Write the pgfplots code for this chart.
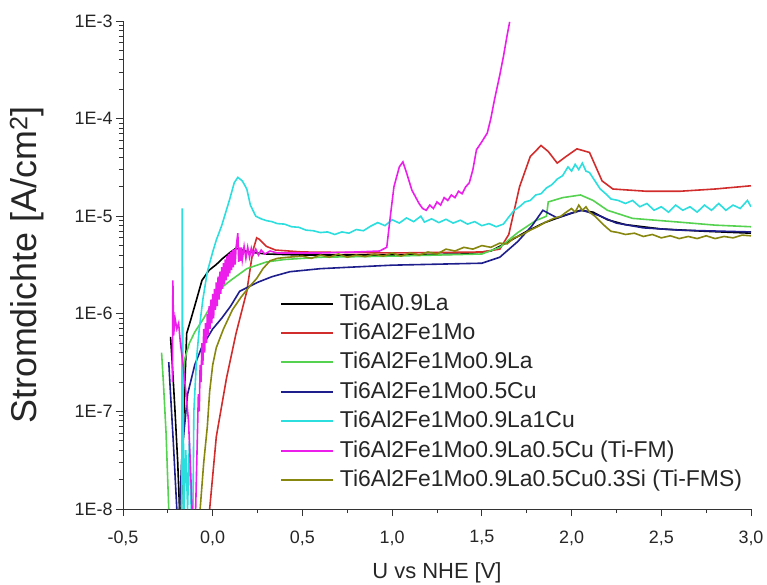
\documentclass[border=0pt]{standalone}
\usepackage{fontspec}
\setmainfont{Liberation Sans}
\usepackage{pgfplots}
\pgfplotsset{compat=1.18}
\definecolor{cRed}{RGB}{210,45,45}
\definecolor{cGreen}{RGB}{85,210,80}
\definecolor{cNavy}{RGB}{30,30,140}
\definecolor{cCyan}{RGB}{45,222,222}
\definecolor{cMag}{RGB}{235,30,235}
\definecolor{cOlive}{RGB}{135,135,15}
\begin{document}
\begin{tikzpicture}
\begin{axis}[
  width=628bp, height=488bp, scale only axis,
  xmin=-0.5, xmax=3.0, ymin=1e-8, ymax=1e-3, ymode=log,
  unbounded coords=jump,
  axis lines*=left,
  axis line style={line width=0.9bp, black!80},
  xtick={-0.5,0,0.5,1,1.5,2,2.5,3},
  xticklabels={{-0,5},{0,0},{0,5},{1,0},{1,5},{2,0},{2,5},{3,0}},
  minor x tick num=1,
  ytick={1e-8,1e-7,1e-6,1e-5,1e-4,1e-3},
  yticklabels={1E-8,1E-7,1E-6,1E-5,1E-4,1E-3},
  tick align=outside,
  major tick length=7bp, minor tick length=4bp,
  every tick/.style={line width=0.9bp, black!80},
  tick label style={font=\fontsize{18}{20}\selectfont, text=black!85},
  xticklabel style={yshift=-11bp},
  /pgf/number format/assume math mode=true,
  xlabel={U vs NHE [V]},
  ylabel={Stromdichte [A/cm\textsuperscript{2}]},
  xlabel style={at={(axis description cs:0.5,-0.131)}, anchor=center, font=\fontsize{22}{24}\selectfont, text=black!85},
  ylabel style={at={(axis description cs:-0.153,0.5)}, anchor=center, font=\fontsize{36}{38}\selectfont, text=black!85},
  legend style={at={(0.25,0.443)}, anchor=north west, draw=none, fill=none,
    font=\fontsize{23}{23}\selectfont, row sep=7.4bp, column sep=0pt, inner sep=0pt,
    nodes={inner sep=0pt, text height=17bp, text depth=5bp, text=black!85}},
  legend cell align=left,
  legend image code/.code={\draw[#1, line width=2bp] (0bp,0.5bp) -- (52bp,0.5bp); \path (58bp,0.5bp);},
  every axis plot/.append style={line width=1.6bp},
]
\coordinate (O) at (rel axis cs:0,0);

% ---- Ti6Al0.9La
\addplot[color=black] coordinates {(-0.235,5.8e-7) (-0.225,3e-7) (-0.21,1e-7) (-0.195,3e-8) (-0.185,1e-8) (-0.18,nan)
(-0.175,1e-8) (-0.165,5e-8) (-0.155,2e-7) (-0.145,6.3e-7) (-0.12,9e-7) (-0.09,1.4e-6) (-0.06,2.2e-6) (-0.02,2.8e-6) (0.02,3.2e-6) (0.056,3.7e-6) (0.1,4.3e-6) (0.13,4.7e-6) (0.2,4.3e-6) (0.3,4.1e-6) (0.5,4.0e-6) (1.0,4.0e-6) (1.4,4.1e-6) (1.55,4.4e-6) (1.65,5.5e-6) (1.75,7e-6) (1.85,8.6e-6) (1.95,1.0e-5) (2.05,1.15e-5) (2.12,1.1e-5) (2.2,9.2e-6) (2.3,8.2e-6) (2.5,7.4e-6) (2.75,7e-6) (3.0,6.7e-6)};
\addlegendentry{Ti6Al0.9La}

% ---- Ti6Al2Fe1Mo
\addplot[color=cRed] coordinates {(-0.017,1e-8) (0.02,5.5e-8) (0.077,2.2e-7) (0.13,6.3e-7) (0.19,1.7e-6) (0.21,3e-6) (0.225,4.5e-6) (0.245,6e-6) (0.26,5.8e-6) (0.3,4.9e-6) (0.35,4.5e-6) (0.5,4.3e-6) (1.0,4.2e-6) (1.5,4.3e-6) (1.6,4.6e-6) (1.65,6.5e-6) (1.71,2e-5) (1.77,4.1e-5) (1.83,5.3e-5) (1.87,4.6e-5) (1.92,3.5e-5) (1.97,4.1e-5) (2.03,4.9e-5) (2.1,4.5e-5) (2.17,2.3e-5) (2.23,1.9e-5) (2.42,1.8e-5) (2.6,1.8e-5) (2.8,1.9e-5) (3.0,2.05e-5)};
\addlegendentry{Ti6Al2Fe1Mo}

% ---- Ti6Al2Fe1Mo0.9La
\addplot[color=cGreen] coordinates {(-0.285,4e-7) (-0.275,2e-7) (-0.26,6e-8) (-0.245,1e-8) (-0.2,nan)
(-0.175,1e-8) (-0.17,8e-8) (-0.165,2.2e-7) (-0.155,3.5e-7) (-0.13,5e-7) (-0.1,6.5e-7) (-0.05,9e-7) (0.0,1.3e-6) (0.056,1.9e-6) (0.1,2.2e-6) (0.19,2.9e-6) (0.3,3.4e-6) (0.4,3.6e-6) (0.6,3.8e-6) (1.0,3.9e-6) (1.5,4.1e-6) (1.6,4.8e-6) (1.7,6.8e-6) (1.8,9e-6) (1.86,1.0e-5) (1.87,1.4e-5) (1.95,1.55e-5) (2.05,1.65e-5) (2.12,1.45e-5) (2.2,1.15e-5) (2.34,9.5e-6) (2.6,8.7e-6) (2.8,8.1e-6) (3.0,7.8e-6)};
\addlegendentry{Ti6Al2Fe1Mo0.9La}

% ---- Ti6Al2Fe1Mo0.5Cu
\addplot[color=cNavy] coordinates {(-0.245,3.2e-7) (-0.235,1.5e-7) (-0.22,5e-8) (-0.2,1e-8) (-0.19,nan)
(-0.185,1e-8) (-0.17,4e-8) (-0.14,1.5e-7) (-0.1,3e-7) (-0.06,4.6e-7) (0.0,7e-7) (0.05,9e-7) (0.1,1.2e-6) (0.15,1.7e-6) (0.25,2.1e-6) (0.33,2.4e-6) (0.43,2.7e-6) (0.6,2.9e-6) (0.76,3.0e-6) (1.0,3.15e-6) (1.5,3.3e-6) (1.6,3.8e-6) (1.7,5.5e-6) (1.78,8e-6) (1.84,1.15e-5) (1.88,1.05e-5) (1.92,9.6e-6) (2.0,1.08e-5) (2.06,1.15e-5) (2.15,1.02e-5) (2.25,8.5e-6) (2.4,7.6e-6) (2.6,7.2e-6) (3.0,6.9e-6)};
\addlegendentry{Ti6Al2Fe1Mo0.5Cu}

% ---- Ti6Al2Fe1Mo0.9La1Cu
\addplot[color=cCyan] coordinates {(-0.172,1e-8) (-0.17,1.2e-5) (-0.166,2e-7) (-0.16,1e-8) (-0.15,4e-8) (-0.14,1e-8) (-0.13,5e-8) (-0.12,1e-8) (-0.115,nan)
(-0.11,1e-8) (-0.105,1e-7) (-0.09,3.5e-7) (-0.075,7e-7) (-0.055,1.4e-6) (-0.03,2.7e-6) (0.0,4.3e-6) (0.02,5.7e-6) (0.05,8e-6) (0.095,1.5e-5) (0.12,2.2e-5) (0.14,2.5e-5) (0.165,2.3e-5) (0.19,1.9e-5) (0.21,1.3e-5) (0.24,1.0e-5)
(0.27,9.4e-6) (0.30,9.0e-6) (0.33,8.8e-6) (0.36,8.4e-6) (0.40,8.3e-6) (0.44,7.8e-6) (0.48,7.7e-6) (0.52,7.2e-6) (0.56,7.1e-6) (0.60,6.8e-6) (0.64,6.9e-6) (0.68,6.5e-6) (0.72,6.9e-6) (0.76,6.7e-6) (0.80,7.3e-6) (0.84,7.1e-6) (0.88,7.9e-6) (0.92,8.6e-6) (0.96,8.0e-6) (1.00,9.2e-6) (1.04,8.5e-6) (1.08,9.6e-6) (1.12,8.8e-6) (1.16,1.0e-5) (1.18,8.7e-6) (1.22,9.4e-6) (1.26,8.6e-6) (1.30,9.3e-6) (1.34,8.5e-6) (1.38,9.1e-6) (1.42,8.3e-6) (1.46,8.8e-6) (1.50,8.0e-6) (1.54,8.4e-6) (1.58,7.8e-6) (1.62,8.3e-6) (1.65,9.8e-6) (1.68,1.15e-5) (1.71,1.25e-5) (1.74,1.4e-5) (1.77,1.45e-5) (1.80,1.65e-5) (1.83,1.7e-5) (1.86,1.95e-5) (1.89,2.1e-5) (1.92,2.4e-5) (1.95,2.6e-5) (1.98,3.2e-5) (2.00,2.9e-5) (2.02,3.4e-5) (2.04,3.0e-5) (2.06,3.5e-5) (2.08,2.9e-5) (2.10,2.8e-5) (2.13,2.3e-5) (2.16,1.9e-5) (2.19,1.7e-5) (2.22,1.5e-5) (2.26,1.45e-5) (2.30,1.35e-5) (2.34,1.45e-5) (2.38,1.25e-5) (2.42,1.35e-5) (2.46,1.15e-5) (2.50,1.25e-5) (2.54,1.1e-5) (2.58,1.3e-5) (2.62,1.15e-5) (2.66,1.25e-5) (2.70,1.1e-5) (2.74,1.3e-5) (2.78,1.15e-5) (2.82,1.35e-5) (2.86,1.15e-5) (2.90,1.3e-5) (2.94,1.2e-5) (2.98,1.45e-5) (3.00,1.25e-5)};
\addlegendentry{Ti6Al2Fe1Mo0.9La1Cu}

% ---- Ti6Al2Fe1Mo0.9La0.5Cu (Ti-FM)
\addplot[color=cMag] coordinates {(-0.225,2e-7) (-0.222,2.2e-6) (-0.218,6e-7) (-0.21,9e-7) (-0.2,7e-7) (-0.19,8e-7) (-0.18,5e-7) (-0.165,3e-7) (-0.15,1.6e-7) (-0.135,8e-8) (-0.125,3e-8) (-0.115,1e-8) (-0.105,nan)
(-0.095,1e-8) (-0.085,6e-8) (-0.08,1.5e-7) (-0.075,1e-7) (-0.07,3e-7) (-0.065,2e-7) (-0.06,5e-7) (-0.055,3e-7) (-0.05,7e-7) (-0.045,4e-7) (-0.04,8e-7) (-0.035,5e-7) (-0.03,1.0e-6) (-0.025,6e-7) (-0.02,1.2e-6) (-0.015,7e-7) (-0.01,1.4e-6) (-0.005,8e-7) (0.0,1.6e-6) (0.005,9e-7) (0.01,1.8e-6) (0.015,1.1e-6) (0.02,2.1e-6) (0.025,1.2e-6) (0.03,2.4e-6) (0.035,1.4e-6) (0.04,2.7e-6) (0.045,1.6e-6) (0.05,3.0e-6) (0.055,1.8e-6) (0.06,3.3e-6) (0.065,2.0e-6) (0.07,3.6e-6) (0.075,2.2e-6) (0.08,3.9e-6) (0.085,2.4e-6) (0.09,4.1e-6) (0.095,2.6e-6) (0.10,4.3e-6) (0.105,2.8e-6) (0.11,4.5e-6) (0.115,3.0e-6) (0.12,4.6e-6) (0.125,3.2e-6) (0.13,4.7e-6) (0.14,6.7e-6) (0.145,3.4e-6) (0.15,4.8e-6) (0.155,3.5e-6) (0.16,4.8e-6) (0.165,3.6e-6) (0.175,4.9e-6) (0.185,3.7e-6) (0.195,4.8e-6) (0.205,3.8e-6) (0.215,4.7e-6) (0.225,4.0e-6) (0.24,4.6e-6) (0.255,4.0e-6) (0.27,4.5e-6) (0.29,4.1e-6) (0.32,4.4e-6) (0.36,4.2e-6) (0.45,4.2e-6) (0.6,4.2e-6) (0.8,4.3e-6) (0.93,4.4e-6) (0.97,4.8e-6) (0.99,1e-5) (1.01,2e-5) (1.04,3.2e-5) (1.06,3.6e-5) (1.08,2.8e-5) (1.11,1.85e-5) (1.15,1.35e-5) (1.17,1.2e-5) (1.19,1.15e-5) (1.21,1.3e-5) (1.23,1.2e-5) (1.25,1.4e-5) (1.27,1.3e-5) (1.29,1.55e-5) (1.31,1.45e-5) (1.33,1.65e-5) (1.35,1.55e-5) (1.37,1.8e-5) (1.39,1.7e-5) (1.41,2.0e-5) (1.43,2.2e-5) (1.45,3.0e-5) (1.47,4.8e-5) (1.50,5.8e-5) (1.53,7.1e-5) (1.55,1.0e-4) (1.57,1.55e-4) (1.60,2.8e-4) (1.62,4.3e-4) (1.64,7e-4) (1.655,9.8e-4)};
\addlegendentry{Ti6Al2Fe1Mo0.9La0.5Cu (Ti-FM)}

% ---- Ti6Al2Fe1Mo0.9La0.5Cu0.3Si (Ti-FMS)
\addplot[color=cOlive] coordinates {(-0.07,1e-8) (-0.05,3e-8) (-0.03,7e-8) (-0.017,1.6e-7) (0.0,3e-7) (0.02,4.5e-7) (0.06,7e-7) (0.11,1.1e-6) (0.16,1.5e-6) (0.2,1.85e-6) (0.245,2.3e-6) (0.28,2.9e-6) (0.32,3.5e-6) (0.36,3.7e-6) (0.42,3.8e-6) (0.5,3.9e-6) (0.55,3.7e-6) (0.6,4.0e-6) (0.65,3.8e-6) (0.7,4.1e-6) (0.75,3.8e-6) (0.8,4.0e-6) (0.85,3.85e-6) (0.9,4.1e-6) (0.95,3.9e-6) (1.0,4.2e-6) (1.05,3.9e-6) (1.1,4.2e-6) (1.15,4.0e-6) (1.2,4.3e-6) (1.25,4.1e-6) (1.3,4.6e-6) (1.35,4.4e-6) (1.4,4.8e-6) (1.45,4.6e-6) (1.5,5.0e-6) (1.55,4.8e-6) (1.6,5.3e-6) (1.64,5.2e-6) (1.68,6.0e-6) (1.72,6.4e-6) (1.77,7.2e-6) (1.81,7.8e-6) (1.85,8.6e-6) (1.9,9.5e-6) (1.94,1.0e-5) (1.97,1.1e-5) (2.0,1.2e-5) (2.02,1.1e-5) (2.04,1.3e-5) (2.06,1.15e-5) (2.08,1.25e-5) (2.1,1.1e-5) (2.13,1.0e-5) (2.16,8.8e-6) (2.19,7.8e-6) (2.22,7.0e-6) (2.26,6.8e-6) (2.3,6.5e-6) (2.35,6.7e-6) (2.4,6.2e-6) (2.45,6.5e-6) (2.5,6.0e-6) (2.55,6.3e-6) (2.6,5.9e-6) (2.65,6.2e-6) (2.7,5.9e-6) (2.75,6.3e-6) (2.8,5.9e-6) (2.85,6.2e-6) (2.9,6.0e-6) (2.95,6.4e-6) (3.0,6.3e-6)};
\addlegendentry{Ti6Al2Fe1Mo0.9La0.5Cu0.3Si (Ti-FMS)}
\end{axis}
\pgfresetboundingbox
\path[use as bounding box] ([shift={(-123bp,-76bp)}]O) rectangle ([shift={(644bp,509bp)}]O);
\end{tikzpicture}
\end{document}
